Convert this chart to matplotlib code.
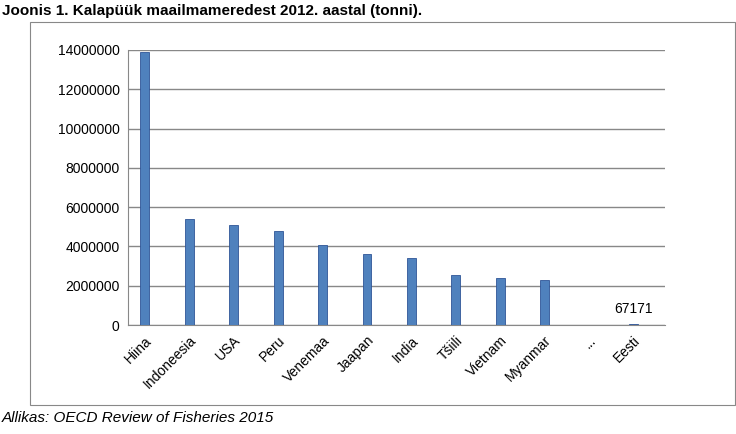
import matplotlib.pyplot as plt
import matplotlib.patches as patches

countries = ["Hiina", "Indoneesia", "USA", "Peru", "Venemaa", "Jaapan", "India",
             "Tšiili", "Vietnam", "Myanmar", "...", "Eesti"]
catch = [13900000, 5400000, 5100000, 4800000, 4050000, 3600000, 3400000,
         2550000, 2400000, 2300000, 0, 67171]
yticks = list(range(0, 14000001, 2000000))

fig = plt.figure(figsize=(7.36, 4.34), dpi=100)
fig.patch.set_facecolor("white")

# outer chart border
fig.patches.append(patches.Rectangle((30 / 736, 1 - 405 / 434), 705 / 736, 383 / 434,
                                     transform=fig.transFigure, fill=False,
                                     edgecolor="#888888", linewidth=0.8))

ax = fig.add_axes([0.174, 0.251, 0.73, 0.634])
x = range(len(countries))
ax.bar(x, catch, width=0.2, color="#4F81BD", edgecolor="#2F5597", linewidth=0.6, zorder=3)
ax.set_xlim(-0.38, 11.72)
ax.set_ylim(0, 14000000)
ax.set_yticks(yticks)
ax.set_yticklabels([str(v) for v in yticks], fontsize=10, family="Liberation Sans")
ax.set_xticks(list(x))
ax.set_xticklabels(countries, rotation=45, ha="right", rotation_mode="anchor",
                   fontsize=10, family="Liberation Sans")
ax.yaxis.grid(True, color="#888888", linewidth=1.0, zorder=0)
for side in ["top", "right"]:
    ax.spines[side].set_visible(False)
ax.spines["left"].set_color("#888888")
ax.spines["bottom"].set_color("#888888")
ax.tick_params(axis="both", length=0, pad=6)

ax.text(11, catch[11] + 400000, "67171", ha="center", va="bottom",
        fontsize=10, family="Liberation Sans")

fig.text(0.003, 0.99, "Joonis 1. Kalapüük maailmameredest 2012. aastal (tonni).",
         fontsize=11, fontweight="bold", family="Liberation Sans", va="top")
fig.text(0.003, 0.02, "Allikas: OECD Review of Fisheries 2015",
         fontsize=11, fontstyle="italic", family="Liberation Sans", va="bottom")

fig.savefig("out.png", dpi=100)
